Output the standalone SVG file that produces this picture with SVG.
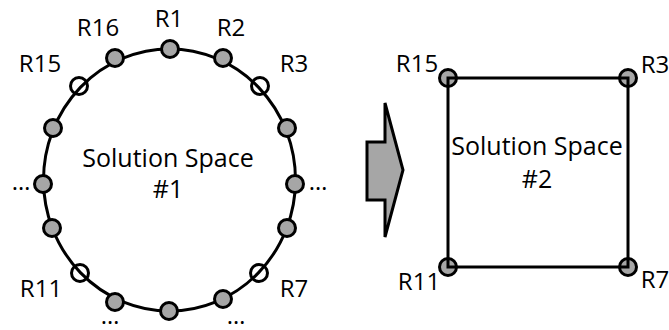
<svg xmlns="http://www.w3.org/2000/svg" width="669" height="330" viewBox="0 0 669 330">
  <style>
    text { font-family: "Open Sans", "Liberation Sans", sans-serif; fill: #000; }
    .lbl { font-size: 24px; }
    .main { font-size: 25px; text-anchor: middle; }
    .mid { text-anchor: middle; }
    .pt { stroke: #000; stroke-width: 3; }
    .on { fill: #a6a6a6; }
    .off { fill: none; }
    .edge { fill: none; stroke: #000; stroke-width: 3; }
  </style>
  <rect width="669" height="330" fill="#fff"/>

  <!-- solution space 1: ring of 16 points -->
  <g id="space1">
    <ellipse class="edge" cx="169.5" cy="180" rx="126" ry="131"/>
    <text class="main" x="168" y="167">Solution Space</text>
    <text class="main" x="168" y="198">#1</text>
  </g>
  <g id="points1">
    <circle id="r1" class="pt on" cx="170" cy="49" r="8.5"/>
    <circle id="r2" class="pt on" cx="223" cy="58" r="8.5"/>
    <circle id="r3" class="pt off" cx="260" cy="86" r="8.5"/>
    <circle id="r4" class="pt on" cx="287" cy="128" r="8.5"/>
    <circle id="r5" class="pt on" cx="295" cy="184" r="8.5"/>
    <circle id="r6" class="pt on" cx="287" cy="228" r="8.5"/>
    <circle id="r7" class="pt off" cx="259" cy="273" r="8.5"/>
    <circle id="r8" class="pt on" cx="223" cy="299" r="8.5"/>
    <circle id="r9" class="pt on" cx="169" cy="311" r="8.5"/>
    <circle id="r10" class="pt on" cx="115" cy="302" r="8.5"/>
    <circle id="r11" class="pt off" cx="80" cy="273" r="8.5"/>
    <circle id="r12" class="pt on" cx="52" cy="228" r="8.5"/>
    <circle id="r13" class="pt on" cx="43" cy="184" r="8.5"/>
    <circle id="r14" class="pt on" cx="53" cy="128" r="8.5"/>
    <circle id="r15" class="pt off" cx="79" cy="86" r="8.5"/>
    <circle id="r16" class="pt on" cx="115" cy="58" r="8.5"/>
  </g>
  <g id="labels1" class="lbl">
    <text class="mid" x="169" y="27">R1</text>
    <text class="mid" x="98" y="36">R16</text>
    <text class="mid" x="231" y="36">R2</text>
    <text class="mid" x="40" y="72">R15</text>
    <text class="mid" x="294" y="72">R3</text>
    <text class="mid" x="21" y="190">…</text>
    <text class="mid" x="318" y="190">…</text>
    <text class="mid" x="41" y="297">R11</text>
    <text class="mid" x="294" y="297">R7</text>
    <text class="mid" x="110" y="324">…</text>
    <text class="mid" x="236" y="324">…</text>
  </g>

  <!-- transition arrow -->
  <g id="arrow">
    <polygon points="367,142 385,142 385,103 403,170 385,237 385,200 367,200" fill="#a6a6a6" stroke="#000" stroke-width="3" stroke-linejoin="miter"/>
  </g>

  <!-- solution space 2: four corner points -->
  <g id="points2">
    <circle id="s15" class="pt on" cx="448" cy="78" r="8.5"/>
    <circle id="s3" class="pt on" cx="628" cy="78" r="8.5"/>
    <circle id="s11" class="pt on" cx="448" cy="267" r="8.5"/>
    <circle id="s7" class="pt on" cx="628" cy="267" r="8.5"/>
  </g>
  <g id="space2">
    <rect class="edge" x="448" y="78" width="180" height="189"/>
    <text class="main" x="537" y="155">Solution Space</text>
    <text class="main" x="537" y="188">#2</text>
  </g>
  <g id="labels2" class="lbl">
    <text class="mid" x="417" y="72">R15</text>
    <text class="mid" x="655" y="73">R3</text>
    <text class="mid" x="419" y="290">R11</text>
    <text class="mid" x="655" y="288">R7</text>
  </g>
</svg>
